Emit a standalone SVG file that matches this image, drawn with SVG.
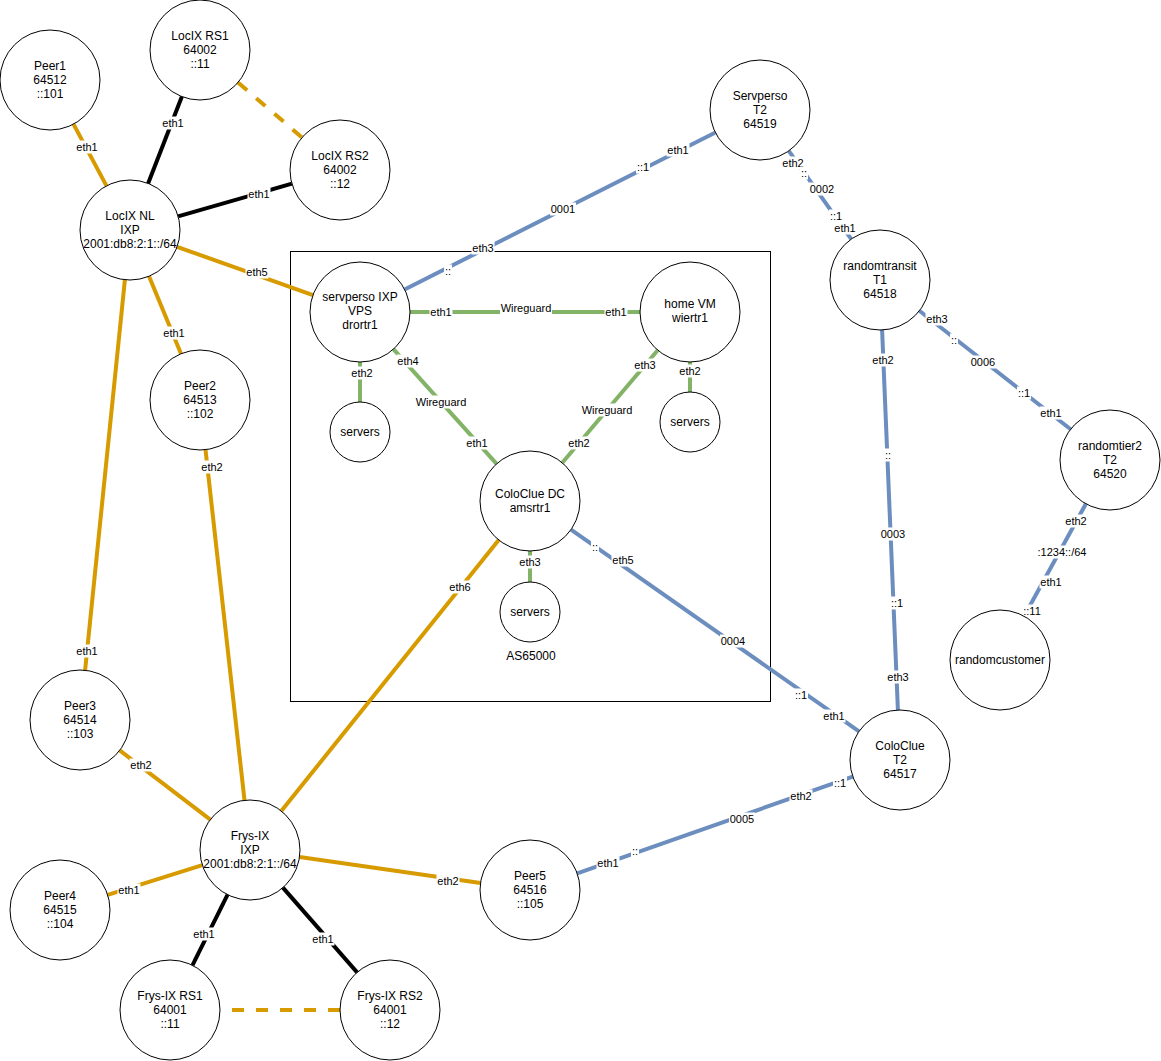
<svg xmlns="http://www.w3.org/2000/svg" width="1161" height="1061" viewBox="0 0 1161 1061">
<style>
.n circle{fill:#fff;stroke:#000;stroke-width:1}
.n text,.t{font-family:"Liberation Sans",Arial,Helvetica,sans-serif;font-size:12px;text-anchor:middle;fill:#000}
.e line{stroke-width:4;fill:none}
.o{stroke:#d79b00}.b{stroke:#6c8ebf}.g{stroke:#82b366}.k{stroke:#000}
.d{stroke-dasharray:12 12}
.lb rect{fill:#fff}
.lb text{font-family:"Liberation Sans",Arial,Helvetica,sans-serif;font-size:11px;text-anchor:middle;fill:#000}
</style>
<rect id="as65000" x="290.5" y="251.5" width="480" height="450" fill="none" stroke="#000" stroke-width="1"/>
<text class="t" x="531" y="660">AS65000</text>
<g id="connectors" class="e">
<line class="o" x1="73.5" y1="124.1" x2="106.5" y2="185.9"/>
<line class="k" x1="181.9" y1="96.6" x2="148.1" y2="183.4"/>
<line class="k" x1="291.9" y1="183.7" x2="178.1" y2="216.3"/>
<line class="o d" x1="238" y1="82.5" x2="302" y2="137.5"/>
<line class="o" x1="177.1" y1="246.8" x2="312.9" y2="295.2"/>
<line class="o" x1="149" y1="276.2" x2="181" y2="353.8"/>
<line class="o" x1="124.9" y1="279.7" x2="85.1" y2="670.3"/>
<line class="o" x1="205.5" y1="449.7" x2="244.5" y2="800.3"/>
<line class="o" x1="119.7" y1="750.4" x2="210.3" y2="819.6"/>
<line class="o" x1="107.7" y1="894.9" x2="202.3" y2="865.1"/>
<line class="o" x1="299.5" y1="857.1" x2="480.5" y2="882.9"/>
<line class="o" x1="281.3" y1="811" x2="498.7" y2="540"/>
<line class="k" x1="227.6" y1="894.7" x2="192.4" y2="965.3"/>
<line class="k" x1="282.9" y1="887.6" x2="357.1" y2="972.4"/>
<line class="o d" x1="232" y1="1010" x2="340" y2="1010"/>
<line class="b" x1="715.4" y1="132.5" x2="404.6" y2="289.5"/>
<line class="b" x1="788.8" y1="150.8" x2="851.2" y2="239.2"/>
<line class="b" x1="919.4" y1="310.8" x2="1070.6" y2="429.2"/>
<line class="b" x1="882.1" y1="330" x2="897.9" y2="710"/>
<line class="b" x1="571" y1="529.7" x2="859" y2="731.3"/>
<line class="b" x1="852.8" y1="776.6" x2="577.2" y2="873.4"/>
<line class="b" x1="1085.9" y1="503.8" x2="1024.1" y2="616.2"/>
<line class="g" x1="410" y1="312" x2="640" y2="312"/>
<line class="g" x1="360" y1="362" x2="360" y2="402"/>
<line class="g" x1="393.4" y1="349.2" x2="496.6" y2="463.8"/>
<line class="g" x1="657.7" y1="350.2" x2="562.3" y2="462.8"/>
<line class="g" x1="690" y1="362" x2="690" y2="392"/>
<line class="g" x1="530" y1="551" x2="530" y2="582"/>
<g class="lb">
<rect x="75.5" y="140.5" width="23" height="13"/><text x="87" y="151">eth1</text>
<rect x="161.5" y="116.5" width="23" height="13"/><text x="173" y="127">eth1</text>
<rect x="247.5" y="187.5" width="23" height="13"/><text x="259" y="198">eth1</text>
<rect x="245.5" y="265.5" width="23" height="13"/><text x="257" y="276">eth5</text>
<rect x="162.5" y="326.5" width="23" height="13"/><text x="174" y="337">eth1</text>
<rect x="75.5" y="644.5" width="23" height="13"/><text x="87" y="655">eth1</text>
<rect x="200.5" y="460.5" width="23" height="13"/><text x="212" y="471">eth2</text>
<rect x="129.5" y="758.5" width="23" height="13"/><text x="141" y="769">eth2</text>
<rect x="117.5" y="883.5" width="23" height="13"/><text x="129" y="894">eth1</text>
<rect x="436.5" y="874.5" width="23" height="13"/><text x="448" y="885">eth2</text>
<rect x="448.5" y="580.5" width="23" height="13"/><text x="460" y="591">eth6</text>
<rect x="192.5" y="927.5" width="23" height="13"/><text x="204" y="938">eth1</text>
<rect x="311.5" y="932.5" width="23" height="13"/><text x="323" y="943">eth1</text>
<rect x="666.5" y="143.5" width="23" height="13"/><text x="678" y="154">eth1</text>
<rect x="636" y="160.5" width="14" height="13"/><text x="643" y="171">::1</text>
<rect x="550" y="202.5" width="26" height="13"/><text x="563" y="213">0001</text>
<rect x="471.5" y="241.5" width="23" height="13"/><text x="483" y="252">eth3</text>
<rect x="444" y="264.5" width="8" height="13"/><text x="448" y="275">::</text>
<rect x="781.5" y="156.5" width="23" height="13"/><text x="793" y="167">eth2</text>
<rect x="800" y="166.5" width="8" height="13"/><text x="804" y="177">::</text>
<rect x="809" y="182.5" width="26" height="13"/><text x="822" y="193">0002</text>
<rect x="829" y="209.5" width="14" height="13"/><text x="836" y="220">::1</text>
<rect x="833.5" y="221.5" width="23" height="13"/><text x="845" y="232">eth1</text>
<rect x="925.5" y="312.5" width="23" height="13"/><text x="937" y="323">eth3</text>
<rect x="950" y="333.5" width="8" height="13"/><text x="954" y="344">::</text>
<rect x="970" y="355.5" width="26" height="13"/><text x="983" y="366">0006</text>
<rect x="1017" y="386.5" width="14" height="13"/><text x="1024" y="397">::1</text>
<rect x="1039.5" y="406.5" width="23" height="13"/><text x="1051" y="417">eth1</text>
<rect x="871.5" y="353.5" width="23" height="13"/><text x="883" y="364">eth2</text>
<rect x="884" y="448.5" width="8" height="13"/><text x="888" y="459">::</text>
<rect x="880" y="527.5" width="26" height="13"/><text x="893" y="538">0003</text>
<rect x="890" y="596.5" width="14" height="13"/><text x="897" y="607">::1</text>
<rect x="886.5" y="670.5" width="23" height="13"/><text x="898" y="681">eth3</text>
<rect x="591" y="540.5" width="8" height="13"/><text x="595" y="551">::</text>
<rect x="611.5" y="553.5" width="23" height="13"/><text x="623" y="564">eth5</text>
<rect x="720" y="634.5" width="26" height="13"/><text x="733" y="645">0004</text>
<rect x="794" y="688.5" width="14" height="13"/><text x="801" y="699">::1</text>
<rect x="822.5" y="709.5" width="23" height="13"/><text x="834" y="720">eth1</text>
<rect x="833" y="776.5" width="14" height="13"/><text x="840" y="787">::1</text>
<rect x="789.5" y="789.5" width="23" height="13"/><text x="801" y="800">eth2</text>
<rect x="729" y="812.5" width="26" height="13"/><text x="742" y="823">0005</text>
<rect x="631" y="844.5" width="8" height="13"/><text x="635" y="855">::</text>
<rect x="596.5" y="856.5" width="23" height="13"/><text x="608" y="867">eth1</text>
<rect x="1064.5" y="514.5" width="23" height="13"/><text x="1076" y="525">eth2</text>
<rect x="1037" y="545.5" width="50" height="13"/><text x="1062" y="556">:1234::/64</text>
<rect x="1039.5" y="575.5" width="23" height="13"/><text x="1051" y="586">eth1</text>
<rect x="1022" y="604.5" width="20" height="13"/><text x="1032" y="615">::11</text>
<rect x="429.5" y="305.5" width="23" height="13"/><text x="441" y="316">eth1</text>
<rect x="500" y="301.5" width="52" height="13"/><text x="526" y="312">Wireguard</text>
<rect x="604.5" y="305.5" width="23" height="13"/><text x="616" y="316">eth1</text>
<rect x="350.5" y="366.5" width="23" height="13"/><text x="362" y="377">eth2</text>
<rect x="396.5" y="354.5" width="23" height="13"/><text x="408" y="365">eth4</text>
<rect x="415" y="395.5" width="52" height="13"/><text x="441" y="406">Wireguard</text>
<rect x="465.5" y="436.5" width="23" height="13"/><text x="477" y="447">eth1</text>
<rect x="633.5" y="358.5" width="23" height="13"/><text x="645" y="369">eth3</text>
<rect x="581" y="403.5" width="52" height="13"/><text x="607" y="414">Wireguard</text>
<rect x="567.5" y="436.5" width="23" height="13"/><text x="579" y="447">eth2</text>
<rect x="678.5" y="364.5" width="23" height="13"/><text x="690" y="375">eth2</text>
<rect x="518.5" y="555.5" width="23" height="13"/><text x="530" y="566">eth3</text>
</g>
</g>
<g id="peer1" class="n"><circle cx="50" cy="80" r="50"/><text x="50" y="69.6">Peer1</text><text x="50" y="84">64512</text><text x="50" y="98.4">::101</text></g>
<g id="locix-rs1" class="n"><circle cx="200" cy="50" r="50"/><text x="200" y="39.6">LocIX RS1</text><text x="200" y="54">64002</text><text x="200" y="68.4">::11</text></g>
<g id="locix-rs2" class="n"><circle cx="340" cy="170" r="50"/><text x="340" y="159.6">LocIX RS2</text><text x="340" y="174">64002</text><text x="340" y="188.4">::12</text></g>
<g id="locix-nl" class="n"><circle cx="130" cy="230" r="50"/><text x="130" y="219.6">LocIX NL</text><text x="130" y="234">IXP</text><text x="130" y="248.4">2001:db8:2:1::/64</text></g>
<g id="peer2" class="n"><circle cx="200" cy="400" r="50"/><text x="200" y="389.6">Peer2</text><text x="200" y="404">64513</text><text x="200" y="418.4">::102</text></g>
<g id="peer3" class="n"><circle cx="80" cy="720" r="50"/><text x="80" y="709.6">Peer3</text><text x="80" y="724">64514</text><text x="80" y="738.4">::103</text></g>
<g id="frys-ix" class="n"><circle cx="250" cy="850" r="50"/><text x="250" y="839.6">Frys-IX</text><text x="250" y="854">IXP</text><text x="250" y="868.4">2001:db8:2:1::/64</text></g>
<g id="peer4" class="n"><circle cx="60" cy="910" r="50"/><text x="60" y="899.6">Peer4</text><text x="60" y="914">64515</text><text x="60" y="928.4">::104</text></g>
<g id="frys-rs1" class="n"><circle cx="170" cy="1010" r="50"/><text x="170" y="999.6">Frys-IX RS1</text><text x="170" y="1014">64001</text><text x="170" y="1028.4">::11</text></g>
<g id="frys-rs2" class="n"><circle cx="390" cy="1010" r="50"/><text x="390" y="999.6">Frys-IX RS2</text><text x="390" y="1014">64001</text><text x="390" y="1028.4">::12</text></g>
<g id="peer5" class="n"><circle cx="530" cy="890" r="50"/><text x="530" y="879.6">Peer5</text><text x="530" y="894">64516</text><text x="530" y="908.4">::105</text></g>
<g id="servperso-ixp" class="n"><circle cx="360" cy="312" r="50"/><text x="360" y="300.6">servperso IXP</text><text x="360" y="315">VPS</text><text x="360" y="329.4">drortr1</text></g>
<g id="home-vm" class="n"><circle cx="690" cy="312" r="50"/><text x="690" y="307.8">home VM</text><text x="690" y="322.2">wiertr1</text></g>
<g id="servers-left" class="n"><circle cx="360" cy="432" r="30"/><text x="360" y="436">servers</text></g>
<g id="servers-right" class="n"><circle cx="690" cy="422" r="30"/><text x="690" y="426">servers</text></g>
<g id="coloclue-dc" class="n"><circle cx="530" cy="501" r="50"/><text x="530" y="497.8">ColoClue DC</text><text x="530" y="512.2">amsrtr1</text></g>
<g id="servers-bottom" class="n"><circle cx="530" cy="612" r="30"/><text x="530" y="616">servers</text></g>
<g id="servperso-t2" class="n"><circle cx="760" cy="110" r="50"/><text x="760" y="99.6">Servperso</text><text x="760" y="114">T2</text><text x="760" y="128.4">64519</text></g>
<g id="randomtransit" class="n"><circle cx="880" cy="280" r="50"/><text x="880" y="269.6">randomtransit</text><text x="880" y="284">T1</text><text x="880" y="298.4">64518</text></g>
<g id="randomtier2" class="n"><circle cx="1110" cy="460" r="50"/><text x="1110" y="449.6">randomtier2</text><text x="1110" y="464">T2</text><text x="1110" y="478.4">64520</text></g>
<g id="randomcustomer" class="n"><circle cx="1000" cy="660" r="50"/><text x="1000" y="664">randomcustomer</text></g>
<g id="coloclue-t2" class="n"><circle cx="900" cy="760" r="50"/><text x="900" y="749.6">ColoClue</text><text x="900" y="764">T2</text><text x="900" y="778.4">64517</text></g>
</svg>
